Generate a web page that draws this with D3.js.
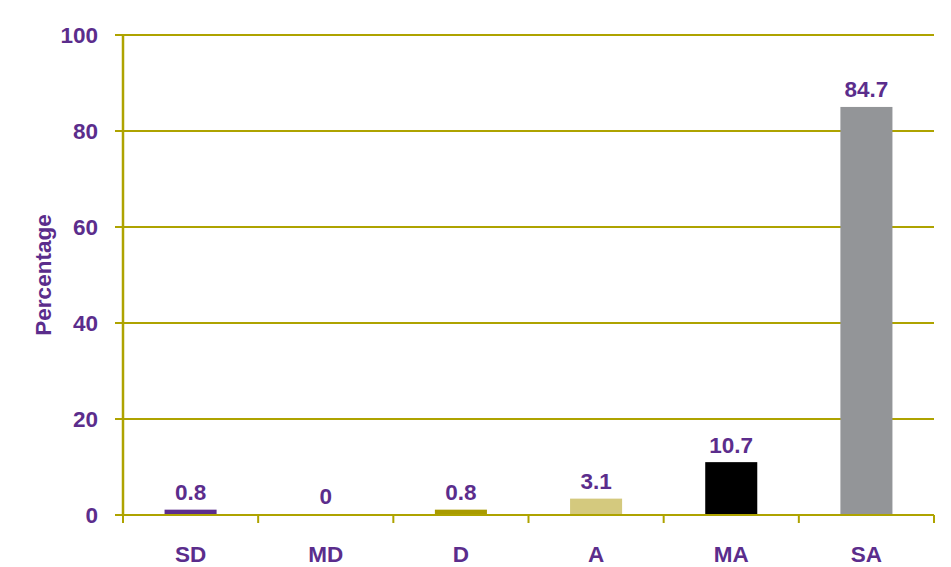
<!DOCTYPE html>
<html><head><meta charset="utf-8">
<script src="https://cdn.jsdelivr.net/npm/d3@7"></script>
<style>body{margin:0;background:#fff}svg{display:block}text{font-family:"Liberation Sans",Arial,sans-serif;font-weight:bold;fill:#5b2d8c}</style>
</head><body><svg width="951" height="567"></svg>
<script>
const categories = ["SD","MD","D","A","MA","SA"];
const values = [0.8, 0, 0.8, 3.1, 10.7, 84.7];
const colors = ["#5b2d8c","#5b2d8c","#a99b00","#d4c97e","#000000","#939598"];
const yTicks = [0,20,40,60,80,100];
const yLabel = "Percentage";

const svg = d3.select("svg");
const m = {left:123, right:934, top:35, bottom:515};
const x = d3.scaleBand().domain(categories).range([m.left, m.right]);
const y = d3.scaleLinear().domain([0,100]).range([m.bottom, m.top]);
const grid = "#aea300";
const fs = "22.5px";

svg.append("g").selectAll("line").data(yTicks).join("line")
  .attr("x1", m.left-8).attr("x2", m.right)
  .attr("y1", d=>y(d)).attr("y2", d=>y(d))
  .attr("stroke", grid).attr("stroke-width", 2);

svg.append("line").attr("x1", m.left).attr("x2", m.left)
  .attr("y1", y(100)).attr("y2", y(0)).attr("stroke", grid).attr("stroke-width", 2.5);

svg.append("g").selectAll("text").data(yTicks).join("text")
  .attr("x", m.left-25).attr("y", d=>y(d)).attr("dy","0.36em")
  .attr("text-anchor","end").style("font-size",fs).text(d=>d);

const xt = categories.map(c=>x(c)).concat([m.right]);
svg.append("g").selectAll("line").data(xt).join("line")
  .attr("x1", d=>d).attr("x2", d=>d).attr("y1", y(0)).attr("y2", y(0)+8)
  .attr("stroke", grid).attr("stroke-width", 2);

const bw = x.bandwidth()*0.385;
svg.append("g").selectAll("rect").data(values).join("rect")
  .attr("x", (d,i)=>x(categories[i])+x.bandwidth()/2-bw/2)
  .attr("width", bw)
  .attr("y", d=>y(d)-(d>0?1.5:0))
  .attr("height", d=>d>0 ? y(0)-y(d)+1.5 : 0)
  .attr("fill", (d,i)=>colors[i]);

svg.append("line").attr("x1", m.left-8).attr("x2", m.right)
  .attr("y1", y(0)).attr("y2", y(0)).attr("stroke", grid).attr("stroke-width", 2);

svg.append("g").selectAll("text").data(values).join("text")
  .attr("x", (d,i)=>x(categories[i])+x.bandwidth()/2)
  .attr("y", d=>y(d)-11)
  .attr("text-anchor","middle").style("font-size",fs).text(d=>d);

svg.append("g").selectAll("text").data(categories).join("text")
  .attr("x", d=>x(d)+x.bandwidth()/2).attr("y", 562)
  .attr("text-anchor","middle").style("font-size",fs).text(d=>d);

svg.append("text").attr("transform","translate(51,275) rotate(-90)")
  .attr("text-anchor","middle").style("font-size",fs).text(yLabel);
</script></body></html>
